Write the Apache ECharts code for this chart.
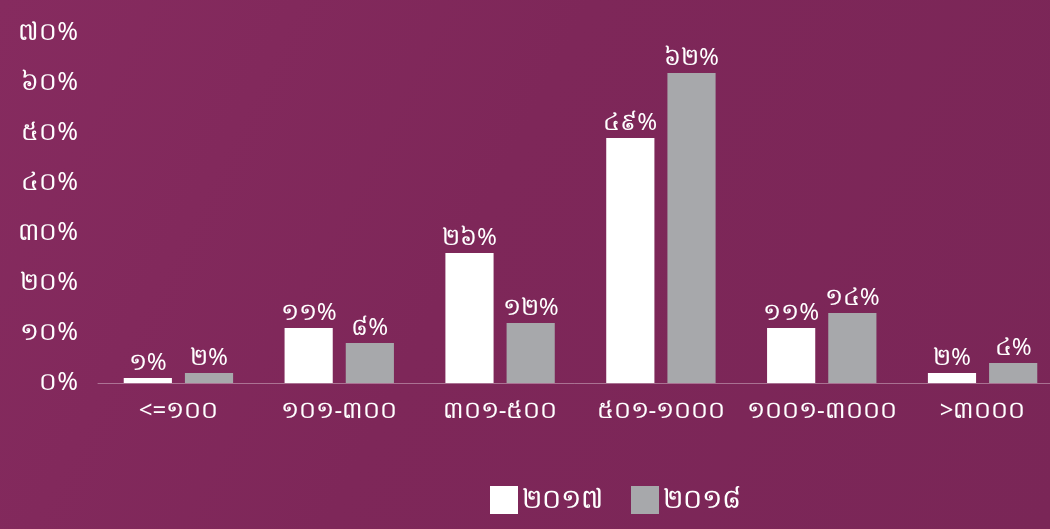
<!DOCTYPE html>
<html><head><meta charset="utf-8">
<script src="https://cdn.jsdelivr.net/npm/echarts@6/dist/echarts.min.js"></script>
<style>html,body{margin:0;padding:0;width:1050px;height:529px;overflow:hidden}#c{width:1050px;height:529px}</style>
</head><body><div id="c"></div>
<script>
// Land-size bands (Khmer numerals) and share of respondents per year, in %
const categories = ['<=១០០', '១០១-៣០០', '៣០១-៥០០', '៥០១-១០០០', '១០០១-៣០០០', '>៣០០០'];
const seriesNames = ['២០១៧', '២០១៨'];
const values2017 = [1, 11, 26, 49, 11, 2];
const values2018 = [2, 8, 12, 62, 14, 4];
const khmerDigits = ['០', '១', '២', '៣', '៤', '៥', '៦', '៧', '៨', '៩'];

const toKhmer = n => String(n).replace(/[0-9]/g, d => khmerDigits[+d]);
const pct = n => toKhmer(n) + '%';

const FONT = "'Noto Sans', sans-serif";
const chart = echarts.init(document.getElementById('c'));
chart.setOption({
  backgroundColor: {
    type: 'linear', x: 0, y: 0, x2: 1, y2: 1,
    colorStops: [{ offset: 0, color: '#862b5f' }, { offset: 0.45, color: '#7e2759' }, { offset: 1, color: '#7a2657' }]
  },
  animation: false,
  textStyle: { fontFamily: FONT },
  // the plot runs slightly past the right edge of the canvas
  grid: { left: 98, width: 965, top: 33, bottom: 146, outerBoundsMode: 'none', containLabel: false },
  legend: {
    bottom: 10, left: 485, itemWidth: 28, itemHeight: 28, itemGap: 28,
    icon: 'rect',
    textStyle: { color: '#ffffff', fontSize: 27, fontFamily: FONT, padding: [0, 0, 0, -1] },
    data: seriesNames
  },
  xAxis: {
    type: 'category', data: categories,
    axisLine: { lineStyle: { color: 'rgba(255,255,255,0.35)', width: 1 } },
    axisTick: { show: false },
    axisLabel: { color: '#ffffff', fontSize: 24, margin: 16, interval: 0, fontFamily: FONT }
  },
  yAxis: {
    type: 'value', min: 0, max: 70, interval: 10,
    splitLine: { show: false },
    axisLine: { show: false }, axisTick: { show: false },
    axisLabel: {
      color: '#ffffff', fontSize: 25, margin: 20, fontFamily: FONT,
      padding: [0, 0, 12, 0], formatter: v => pct(v)
    }
  },
  series: [
    {
      name: seriesNames[0], type: 'bar', data: values2017,
      barGap: '27%', barCategoryGap: '32%',
      itemStyle: { color: '#ffffff' },
      label: { show: true, position: 'top', distance: 3, color: '#ffffff', fontSize: 24, fontFamily: FONT, formatter: p => pct(p.value) }
    },
    {
      name: seriesNames[1], type: 'bar', data: values2018,
      itemStyle: { color: '#a7a8ab' },
      label: { show: true, position: 'top', distance: 3, color: '#ffffff', fontSize: 24, fontFamily: FONT, formatter: p => pct(p.value) }
    }
  ]
});
</script></body></html>
